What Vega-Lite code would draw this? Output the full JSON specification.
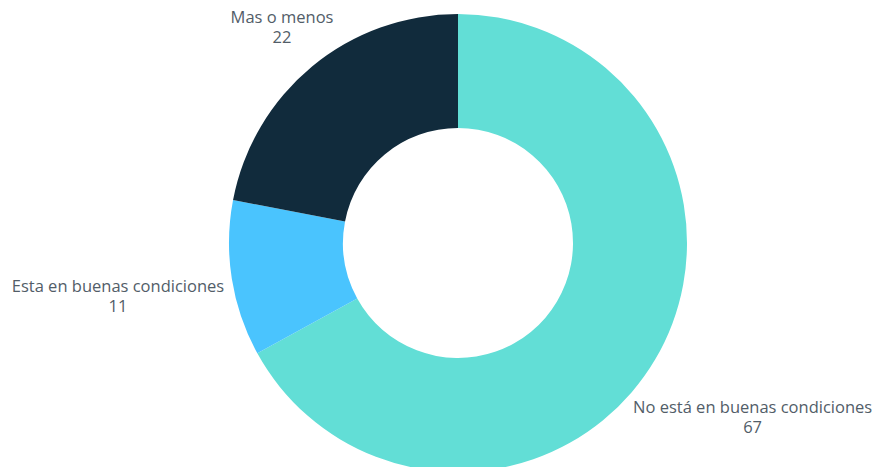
{
  "$schema": "https://vega.github.io/schema/vega-lite/v6.json",
  "width": 838,
  "height": 448,
  "autosize": {"type": "none"},
  "padding": {"left": 39, "top": 19, "right": 0, "bottom": 0},
  "background": "white",
  "config": {"view": {"stroke": null}},
  "data": {
    "values": [
      {"categoria": "No está en buenas condiciones", "valor": 67, "orden": 1},
      {"categoria": "Esta en buenas condiciones", "valor": 11, "orden": 2},
      {"categoria": "Mas o menos", "valor": 22, "orden": 3}
    ]
  },
  "transform": [
    {"stack": "valor", "sort": [{"field": "orden", "order": "ascending"}], "groupby": [], "as": ["v0", "v1"]},
    {"calculate": "(datum.v0 + datum.v1) / 2", "as": "mid"},
    {"calculate": "datum.categoria + '\\n' + datum.valor", "as": "etiqueta"}
  ],
  "layer": [
    {
      "mark": {"type": "arc", "outerRadius": 229, "innerRadius": 115},
      "encoding": {
        "theta": {"field": "v0", "type": "quantitative", "stack": null, "scale": {"domain": [0, 100]}},
        "theta2": {"field": "v1"},
        "color": {
          "field": "categoria",
          "type": "nominal",
          "scale": {
            "domain": ["No está en buenas condiciones", "Esta en buenas condiciones", "Mas o menos"],
            "range": ["#62DED6", "#4AC4FE", "#112B3C"]
          },
          "legend": null
        }
      }
    },
    {
      "transform": [{"filter": "datum.orden == 1"}],
      "mark": {"type": "text", "radius": 240, "dx": 88, "dy": 35, "align": "center", "baseline": "top", "fontSize": 16.5, "font": "Open Sans", "color": "#525d68", "lineBreak": "\n", "lineHeight": 20},
      "encoding": {
        "theta": {"field": "mid", "type": "quantitative", "stack": null, "scale": {"domain": [0, 100]}},
        "text": {"field": "etiqueta"}
      }
    },
    {
      "transform": [{"filter": "datum.orden == 2"}],
      "mark": {"type": "text", "radius": 240, "dx": -103, "dy": -2, "align": "center", "baseline": "top", "fontSize": 16.5, "font": "Open Sans", "color": "#525d68", "lineBreak": "\n", "lineHeight": 20},
      "encoding": {
        "theta": {"field": "mid", "type": "quantitative", "stack": null, "scale": {"domain": [0, 100]}},
        "text": {"field": "etiqueta"}
      }
    },
    {
      "transform": [{"filter": "datum.orden == 3"}],
      "mark": {"type": "text", "radius": 240, "dx": -23, "dy": -48, "align": "center", "baseline": "top", "fontSize": 16.5, "font": "Open Sans", "color": "#525d68", "lineBreak": "\n", "lineHeight": 20},
      "encoding": {
        "theta": {"field": "mid", "type": "quantitative", "stack": null, "scale": {"domain": [0, 100]}},
        "text": {"field": "etiqueta"}
      }
    }
  ]
}
